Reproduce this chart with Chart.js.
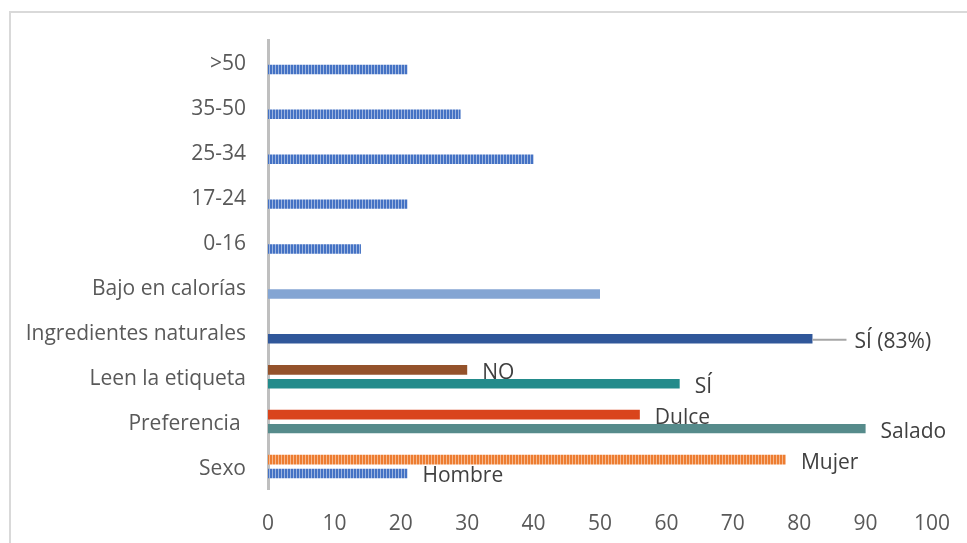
<!DOCTYPE html>
<html>
<head>
<meta charset="utf-8">
<script src="https://cdn.jsdelivr.net/npm/chart.js@4/dist/chart.umd.min.js"></script>
<style>
    html, body { margin: 0; padding: 0; background: #fff; overflow: hidden; }
    #frame { position: absolute; left: 9px; top: 11px; width: 2000px; height: 2000px; border: 2px solid #d9d9d9; }
    #wrap { position: absolute; left: 0; top: 0; width: 967px; height: 543px; }
</style>
</head>
<body>
<div id="frame"></div>
<div id="wrap"><canvas id="chart" width="967" height="543"></canvas></div>
<script>
// datos
const categories = ['>50', '35-50', '25-34', '17-24', '0-16', 'Bajo en calorías', 'Ingredientes naturales', 'Leen la etiqueta', 'Preferencia ', 'Sexo'];
const upperValues = [null, null, null, null, null, null, null, 30, 56, 78];
const lowerValues = [21, 29, 40, 21, 14, 50, 82, 62, 90, 21];
const upperLabels = ['', '', '', '', '', '', '', 'NO', 'Dulce', 'Mujer'];
const lowerLabels = ['', '', '', '', '', '', 'SÍ (83%)', 'SÍ', 'Salado', 'Hombre'];
const xTicks = [0, 10, 20, 30, 40, 50, 60, 70, 80, 90, 100];

// rayas verticales
function stripes(dark, light) {
    const c = document.createElement('canvas');
    c.width = 3;
    c.height = 4;
    const g = c.getContext('2d');
    g.fillStyle = dark;
    g.fillRect(0, 0, 3, 4);
    g.fillStyle = light;
    g.fillRect(2, 0, 1, 4);
    return g.createPattern(c, 'repeat');
}

const blueStripes = stripes('#4472c4', '#9db5e0');
const orangeStripes = stripes('#ed7d31', '#f6b88e');

const upperColors = [null, null, null, null, null, null, null, '#94522b', '#d9441c', orangeStripes];
const lowerColors = [blueStripes, blueStripes, blueStripes, blueStripes, blueStripes, '#84a5d3', '#30579a', '#238b8b', '#568b8b', blueStripes];

// etiquetas de datos
const barLabels = {
    id: 'barLabels',
    afterDatasetsDraw(chart, args, opts) {
        const ctx = chart.ctx;
        ctx.save();
        ctx.font = opts.font;
        ctx.fillStyle = opts.color;
        ctx.textBaseline = 'middle';
        ctx.textAlign = 'left';
        chart.data.datasets.forEach((ds, di) => {
            const meta = chart.getDatasetMeta(di);
            meta.data.forEach((bar, i) => {
                const text = ds.labels[i];
                if (!text) return;
                let x = bar.x + 15;
                if (opts.leader.dataset === di && opts.leader.index === i) {
                    ctx.strokeStyle = '#a6a6a6';
                    ctx.lineWidth = 2;
                    ctx.beginPath();
                    ctx.moveTo(bar.x, bar.y + 1);
                    ctx.lineTo(bar.x + opts.leader.length, bar.y + 1);
                    ctx.stroke();
                    x = bar.x + opts.leader.length + 8;
                }
                ctx.fillText(text, x, bar.y + 3);
            });
        });
        ctx.restore();
    }
};

const font = { family: '"Open Sans", sans-serif', size: 21 };

new Chart(document.getElementById('chart'), {
    type: 'bar',
    data: {
        labels: categories,
        datasets: [
            {
                data: upperValues,
                labels: upperLabels,
                backgroundColor: upperColors,
                categoryPercentage: 0.62,
                barPercentage: 0.7
            },
            {
                data: lowerValues,
                labels: lowerLabels,
                backgroundColor: lowerColors,
                categoryPercentage: 0.62,
                barPercentage: 0.68
            }
        ]
    },
    options: {
        indexAxis: 'y',
        responsive: false,
        animation: false,
        layout: { padding: { top: 40, right: 35, bottom: 0, left: 0 } },
        plugins: {
            legend: { display: false },
            tooltip: { enabled: false },
            barLabels: {
                font: '21px "Open Sans", sans-serif',
                color: '#404040',
                leader: { dataset: 1, index: 6, length: 34 }
            }
        },
        scales: {
            x: {
                min: 0,
                max: 100,
                afterFit: (scale) => {
                    scale.height = 54;
                    scale.paddingLeft = 0;
                    scale.paddingRight = 0;
                },
                afterBuildTicks: (scale) => { scale.ticks = xTicks.map(v => ({ value: v })); },
                grid: { display: false, drawTicks: false },
                border: { display: false },
                ticks: { color: '#595959', font: font, padding: 22, maxRotation: 0 }
            },
            y: {
                afterFit: (scale) => { scale.width = 268; },
                grid: { display: false, drawTicks: false },
                border: { display: true, color: '#bfbfbf', width: 3 },
                ticks: { color: '#595959', font: font, padding: 22, labelOffset: 2, autoSkip: false }
            }
        }
    },
    plugins: [barLabels]
});
</script>
</body>
</html>
